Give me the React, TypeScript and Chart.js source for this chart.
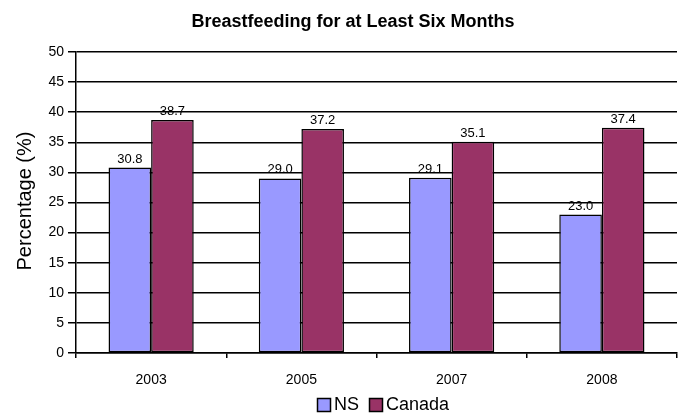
import React, { useEffect, useRef } from "react";
import { Chart, registerables } from "chart.js";

Chart.register(...registerables);

const categories = ["2003", "2005", "2007", "2008"];
const nsValues = [30.8, 29.0, 29.1, 23.0];
const canadaValues = [38.7, 37.2, 35.1, 37.4];
const seriesNames = ["NS", "Canada"];
const seriesColors = ["#9999FF", "#993366"];
const titleText = "Breastfeeding for at Least Six Months";
const yTitle = "Percentage (%)";

const FONT = "'Liberation Sans', Arial, sans-serif";

const decorPlugin = {
  id: "decor",
  afterDatasetsDraw(chart: any) {
    const ctx = chart.ctx;
    ctx.save();
    // data labels
    ctx.fillStyle = "#000";
    ctx.font = `13px ${FONT}`;
    ctx.textAlign = "center";
    ctx.textBaseline = "alphabetic";
    chart.data.datasets.forEach((ds: any, i: number) => {
      const meta = chart.getDatasetMeta(i);
      meta.data.forEach((bar: any, j: number) => {
        ctx.fillText(Number(ds.data[j]).toFixed(1), bar.x, bar.y - 5);
      });
    });
    // title
    ctx.font = `bold 18px ${FONT}`;
    ctx.textBaseline = "middle";
    ctx.fillText(titleText, 353, 22);
    // y title
    ctx.save();
    ctx.translate(25, 201);
    ctx.rotate(-Math.PI / 2);
    ctx.font = `20px ${FONT}`;
    ctx.fillText(yTitle, 0, 0);
    ctx.restore();
    // legend
    ctx.font = `18px ${FONT}`;
    ctx.textAlign = "left";
    ctx.textBaseline = "middle";
    const ly = 405;
    let lx = 317;
    seriesNames.forEach((name, i) => {
      ctx.fillStyle = seriesColors[i];
      ctx.fillRect(lx + 0.5, ly - 6.5, 13, 13);
      ctx.strokeStyle = "#000";
      ctx.lineWidth = 1.5;
      ctx.strokeRect(lx + 0.5, ly - 6.5, 13, 13);
      ctx.fillStyle = "#000";
      ctx.fillText(name, lx + 17, ly);
      lx += 17 + ctx.measureText(name).width + 10;
    });
    ctx.restore();
  },
};

export default function App() {
  const ref = useRef<HTMLCanvasElement>(null);
  useEffect(() => {
    if (!ref.current) return;
    const chart = new Chart(ref.current, {
      type: "bar",
      data: {
        labels: categories,
        datasets: [
          {
            label: seriesNames[0],
            data: nsValues,
            backgroundColor: seriesColors[0],
            borderColor: "#000",
            borderWidth: 1.5,
            borderSkipped: false,
            barPercentage: 1,
            categoryPercentage: 0.567,
          },
          {
            label: seriesNames[1],
            data: canadaValues,
            backgroundColor: seriesColors[1],
            borderColor: "#000",
            borderWidth: 1.5,
            borderSkipped: false,
            barPercentage: 1,
            categoryPercentage: 0.567,
          },
        ],
      },
      options: {
        responsive: false,
        animation: false,
        layout: { padding: { top: 52, right: 8, bottom: 20, left: 0 } },
        plugins: {
          legend: { display: false },
          title: { display: false },
          tooltip: { enabled: false },
        },
        scales: {
          x: {
            grid: {
              offset: true,
              drawOnChartArea: false,
              drawTicks: true,
              tickLength: 5,
              color: "#000",
              lineWidth: 1.5,
            },
            border: { color: "#000", width: 1.5 },
            ticks: {
              color: "#000",
              font: { family: FONT, size: 14 },
              padding: 14,
              maxRotation: 0,
            },
            afterFit: (s: any) => {
              s.height = 40;
            },
          },
          y: {
            min: 0,
            max: 50,
            ticks: {
              stepSize: 5,
              color: "#000",
              font: { family: FONT, size: 14 },
              padding: 4,
            },
            grid: {
              color: "#000",
              lineWidth: 1.5,
              tickLength: 8,
              drawTicks: true,
            },
            border: { color: "#000", width: 1.5 },
            afterFit: (s: any) => {
              s.width = 76;
            },
          },
        },
      },
      plugins: [decorPlugin],
    });
    return () => chart.destroy();
  }, []);
  return (
    <div style={{ position: "absolute", left: 0, top: 0, width: 685, height: 413, background: "#fff" }}>
      <canvas ref={ref} width={685} height={413} style={{ display: "block" }} />
    </div>
  );
}
